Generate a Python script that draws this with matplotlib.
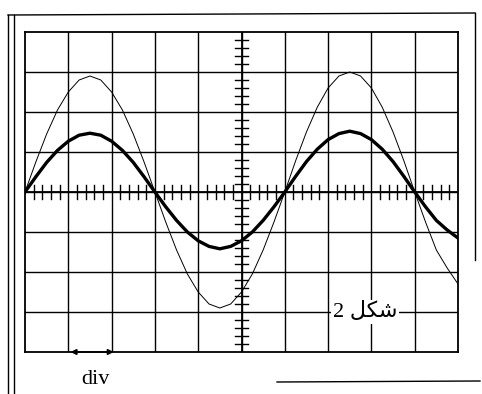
import matplotlib
matplotlib.use("Agg")
import matplotlib.pyplot as plt
from matplotlib.lines import Line2D

# Screen in divisions: 10 horizontal x 8 vertical
x_div = [i * 0.25 for i in range(41)]
thin_signal = [0, 0.75, 1.45, 2.05, 2.5, 2.8, 2.9, 2.8, 2.5, 2.05, 1.45, 0.75,
               0, -0.75, -1.45, -2.05, -2.5, -2.8, -2.9, -2.8, -2.5, -2.05, -1.45, -0.75,
               0, 0.78, 1.5, 2.12, 2.6, 2.9, 3.0, 2.9, 2.6, 2.12, 1.5, 0.78,
               0, -0.75, -1.45, -1.9, -2.3]
thick_signal = [0, 0.38, 0.74, 1.04, 1.27, 1.42, 1.47, 1.42, 1.27, 1.04, 0.74, 0.38,
                0, -0.37, -0.71, -1.0, -1.22, -1.36, -1.42, -1.36, -1.22, -1.0, -0.71, -0.37,
                0, 0.39, 0.76, 1.07, 1.31, 1.46, 1.52, 1.46, 1.31, 1.07, 0.76, 0.39,
                0, -0.37, -0.71, -0.95, -1.15]
caption = "2 " + "\uFEDE\uFEDC\uFEB7"   # شكل 2 (visual order, shaped forms)
scale_label = "div"

W, H = 482, 394
fig = plt.figure(figsize=(W / 100, H / 100), dpi=100)
fig.patch.set_facecolor("white")

def fx(px):
    return px / W

def fy(py):
    return 1 - py / H

ax = fig.add_axes([fx(25), fy(352), fx(458) - fx(25), fy(32) - fy(352)])
ax.set_xlim(0, 10)
ax.set_ylim(-4, 4)
for s in ax.spines.values():
    s.set_linewidth(1.3)
    s.set_color("black")
ax.set_xticks([])
ax.set_yticks([])

# grid
for gx in range(1, 10):
    ax.axvline(gx, color="black", lw=1.0, zorder=1)
for gy in range(-3, 4):
    ax.axhline(gy, color="black", lw=1.0, zorder=1)
ax.axvline(5, color="black", lw=1.3, zorder=1)
ax.axhline(0, color="black", lw=1.3, zorder=1)

# minor ticks on central axes
for k in range(50):
    if k % 5 == 0:
        continue
    t = k * 0.2
    ax.plot([t, t], [-0.17, 0.17], color="black", lw=1.0, zorder=1)
for k in range(-20, 21):
    if k % 5 == 0:
        continue
    t = k * 0.2
    ax.plot([4.84, 5.16], [t, t], color="black", lw=1.0, zorder=1)

# signals
ax.plot(x_div, thin_signal, color="black", lw=0.7, zorder=3)
ax.plot(x_div, thick_signal, color="black", lw=2.4, zorder=3)

# caption
ax.text(7.85, -3.0, caption, family=["Liberation Serif", "DejaVu Sans"],
        fontsize=16, ha="center", va="center", zorder=4,
        bbox=dict(facecolor="white", edgecolor="none", pad=1.5))

# div scale arrow
ax.annotate("", xy=(1.05, -4.0), xytext=(2.05, -4.0),
            arrowprops=dict(arrowstyle="<|-|>", color="black", lw=1.2,
                            mutation_scale=8, shrinkA=0, shrinkB=0),
            annotation_clip=False, zorder=5)
ax.text(1.62, -4.68, scale_label, family="Liberation Serif", fontsize=16,
        ha="center", va="center", clip_on=False)

# outer frame of the scanned figure
frame_lines = [
    ((8, 475), (15, 13)),
    ((8, 8), (15, 394)),
    ((14, 14), (15, 394)),
    ((475, 475), (13, 260)),
    ((277, 480), (382, 381)),
]
for (xs, ys) in frame_lines:
    fig.add_artist(Line2D([fx(v) for v in xs], [fy(v) for v in ys],
                          color="black", lw=1.0))

fig.savefig("out.png", dpi=100, facecolor="white")
